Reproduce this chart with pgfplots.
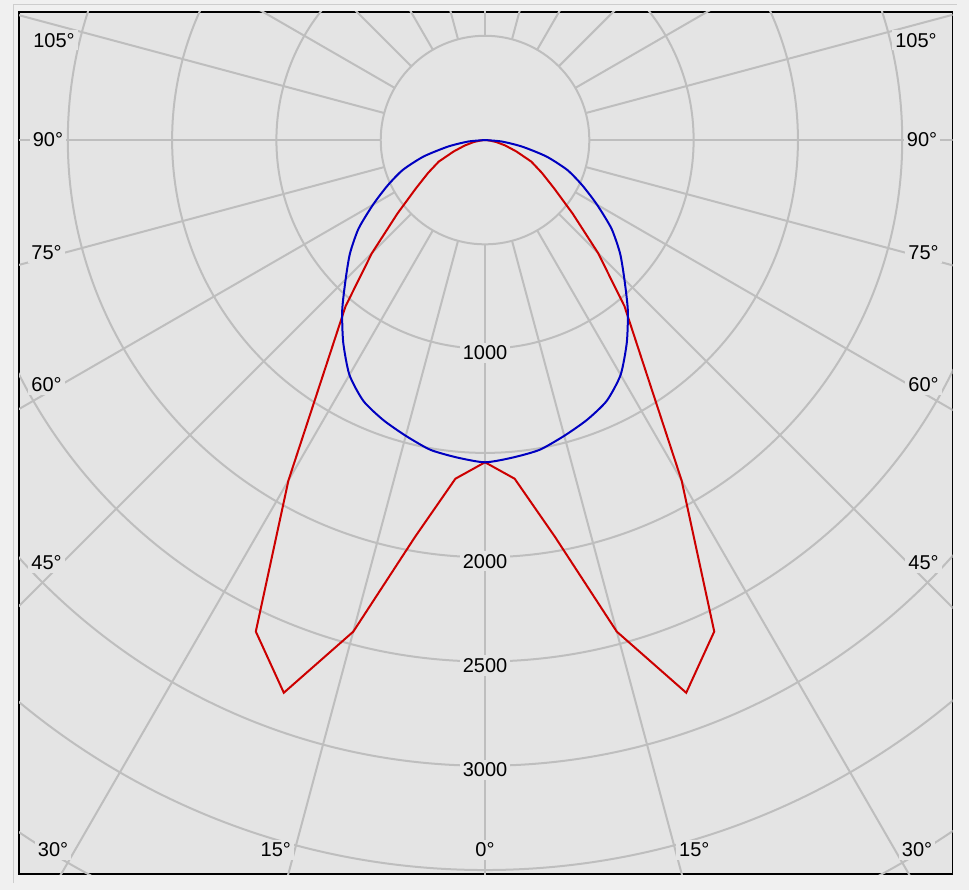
\documentclass[border=0pt]{standalone}
\usepackage{pgfplots}
\pgfplotsset{compat=1.18}
\usepackage{pgfplotstable}
\usepackage{fontspec}
\setmainfont{Liberation Sans}
\definecolor{bgc}{RGB}{228,228,228}
\definecolor{outc}{RGB}{240,240,240}
\definecolor{edgec}{RGB}{205,205,205}
\definecolor{gridc}{RGB}{190,190,190}
\definecolor{redc}{RGB}{204,0,0}
\definecolor{bluec}{RGB}{0,0,192}

% angle from nadir (deg), intensity (cd)
\pgfplotstableread{
a I
-90 0
-85 20
-80 55
-75 100
-70 160
-65 245
-60 315
-55 405
-50 548
-45 767
-40 1040
-35 1335
-30 1885
-25 2600
-20 2820
-15 2440
-10 1932
-5 1630
0 1545
5 1630
10 1932
15 2440
20 2820
25 2600
30 1885
35 1335
40 1040
45 767
50 548
55 405
60 315
65 245
70 160
75 100
80 55
85 20
90 0
}\redtab

\pgfplotstableread{
a I
-90 0
-85 80
-80 180
-75 305
-70 420
-65 515
-60 620
-55 740
-50 845
-45 945
-40 1065
-35 1185
-30 1300
-25 1380
-20 1428
-15 1468
-10 1508
-5 1528
0 1545
5 1528
10 1508
15 1468
20 1428
25 1380
30 1300
35 1185
40 1065
45 945
50 845
55 740
60 620
65 515
70 420
75 305
80 180
85 80
90 0
}\bluetab

\begin{document}
\begin{tikzpicture}
\useasboundingbox (0,0) rectangle (484.5pt,445pt);
\fill[outc] (0,0) rectangle (484.5pt,445pt);
\draw[edgec, line width=0.5pt] (6.5pt,3.5pt) -- (6.5pt,442.5pt) -- (478.5pt,442.5pt);
\begin{axis}[
  at={(9.5pt,8pt)}, anchor=south west,
  scale only axis, width=466.75pt, height=431pt,
  xmin=-2234, xmax=2241, ymin=-3519, ymax=614,
  xtick=\empty, ytick=\empty,
  axis line style={black, line width=0.75pt},
  axis background/.style={fill=bgc},
  clip=true,
  every node/.append style={font=\fontsize{11pt}{13pt}\selectfont},
]
% rings
\pgfplotsinvokeforeach{500,1000,...,5000}{
  \draw[gridc, line width=1pt] (axis cs:0,0) circle[radius=#1];
}
% spokes
\pgfplotsinvokeforeach{0,15,...,345}{
  \draw[gridc, line width=1pt] (axis cs:{500*sin(#1)},{-500*cos(#1)}) -- (axis cs:{6000*sin(#1)},{-6000*cos(#1)});
}
\addplot[redc, line width=1pt] table[x expr={\thisrow{I}*sin(\thisrow{a})}, y expr={-\thisrow{I}*cos(\thisrow{a})}] {\redtab};
\addplot[bluec, line width=1pt, smooth, tension=0.4] table[x expr={\thisrow{I}*sin(\thisrow{a})}, y expr={-\thisrow{I}*cos(\thisrow{a})}] {\bluetab};
% radial labels
\node[fill=bgc, inner sep=1.5pt, yshift=-2pt] at (axis cs:0,-1000) {1000};
\node[fill=bgc, inner sep=1.5pt, yshift=-2pt] at (axis cs:0,-2000) {2000};
\node[fill=bgc, inner sep=1.5pt, yshift=-2pt] at (axis cs:0,-2500) {2500};
\node[fill=bgc, inner sep=1.5pt, yshift=-2pt] at (axis cs:0,-3000) {3000};
% angle labels
\node[fill=bgc, inner sep=1.5pt] at (axis cs:-2066,479) {105°};
\node[fill=bgc, inner sep=1.5pt] at (axis cs:2066,479) {105°};
\node[fill=bgc, inner sep=1.5pt] at (axis cs:-2095,0) {90°};
\node[fill=bgc, inner sep=1.5pt] at (axis cs:2095,0) {90°};
\node[fill=bgc, inner sep=1.5pt] at (axis cs:-2102,-542) {75°};
\node[fill=bgc, inner sep=1.5pt] at (axis cs:2102,-542) {75°};
\node[fill=bgc, inner sep=1.5pt] at (axis cs:-2102,-1174) {60°};
\node[fill=bgc, inner sep=1.5pt] at (axis cs:2102,-1174) {60°};
\node[fill=bgc, inner sep=1.5pt] at (axis cs:-2102,-2028) {45°};
\node[fill=bgc, inner sep=1.5pt] at (axis cs:2102,-2028) {45°};
\node[fill=bgc, inner sep=1.5pt] at (axis cs:-2071,-3404) {30°};
\node[fill=bgc, inner sep=1.5pt] at (axis cs:2071,-3404) {30°};
\node[fill=bgc, inner sep=1.5pt] at (axis cs:-1003,-3404) {15°};
\node[fill=bgc, inner sep=1.5pt] at (axis cs:1003,-3404) {15°};
\node[fill=bgc, inner sep=1.5pt] at (axis cs:0,-3404) {0°};
\end{axis}
\end{tikzpicture}
\end{document}
